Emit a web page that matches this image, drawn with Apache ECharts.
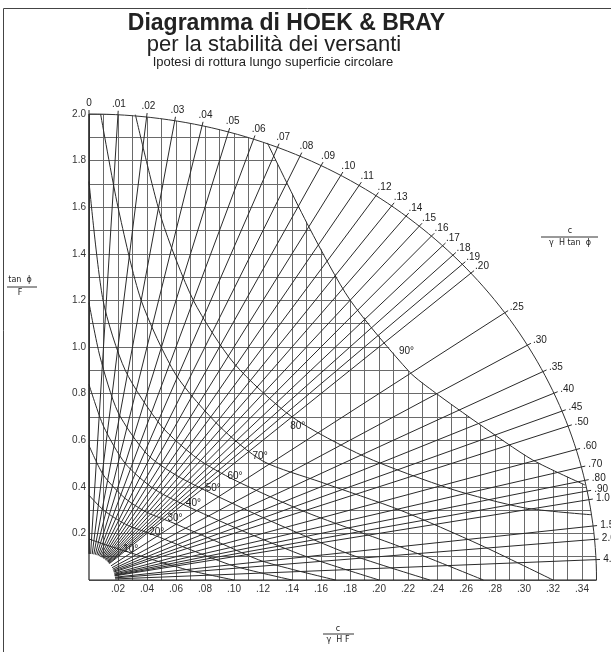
<!DOCTYPE html>
<html>
<head>
<meta charset="utf-8">
<script src="https://cdn.jsdelivr.net/npm/echarts/dist/echarts.min.js"></script>
<style>
html, body { margin: 0; padding: 0; background: #fff; }
#chart { width: 611px; height: 652px; }
</style>
</head>
<body>
<div id="chart"></div>
<script>
//=============== dati =================
// valori c / (gamma H tan phi) delle rette radiali
var radialK = [0, .01, .02, .03, .04, .05, .06, .07, .08, .09, .10, .11, .12, .13, .14, .15, .16, .17, .18, .19, .20,
    .25, .30, .35, .40, .45, .50, .60, .70, .80, .90, 1.0, 1.5, 2.0, 4.0];
var radialLabels = ['0', '.01', '.02', '.03', '.04', '.05', '.06', '.07', '.08', '.09', '.10', '.11', '.12', '.13', '.14',
    '.15', '.16', '.17', '.18', '.19', '.20', '.25', '.30', '.35', '.40', '.45', '.50', '.60', '.70', '.80', '.90',
    '1.0', '1.5', '2.0', '4.0'];

// curve dell'angolo del pendio (x = c/gammaHF, y = tan phi / F)
var angleNames = ['10°', '20°', '30°', '40°', '50°', '60°', '70°', '80°', '90°'];
var slope10 = [[0, 0.176], [0.012, 0.15], [0.027, 0.12], [0.045, 0.085], [0.07, 0.04], [0.10, 0]];
var slope20 = [[0, 0.364], [0.01, 0.30], [0.025, 0.24], [0.046, 0.19], [0.07, 0.13], [0.10, 0.06], [0.14, 0]];
var slope30 = [[0, 0.577], [0.01, 0.45], [0.025, 0.35], [0.04, 0.29], [0.058, 0.245], [0.09, 0.16], [0.12, 0.08], [0.17, 0]];
var slope40 = [[0, 0.839], [0.01, 0.66], [0.025, 0.50], [0.045, 0.39], [0.07, 0.31], [0.11, 0.20], [0.15, 0.10], [0.20, 0]];
var slope50 = [[0, 1.19], [0.0076, 0.958], [0.02, 0.72], [0.04, 0.54], [0.06, 0.45], [0.085, 0.37], [0.13, 0.24],
    [0.18, 0.11], [0.235, 0]];
var slope60 = [[0, 1.71], [0.0097, 1.20], [0.025, 0.90], [0.05, 0.66], [0.075, 0.52], [0.10, 0.43], [0.15, 0.29],
    [0.2145, 0.143], [0.272, 0]];
var slope70 = [[0.008, 2.0], [0.02, 1.6], [0.036, 1.2], [0.06, 0.88], [0.09, 0.66], [0.12, 0.51], [0.16, 0.42],
    [0.2145, 0.30], [0.27, 0.15], [0.32, 0]];
var slope80 = [[0.032, 1.997], [0.05, 1.55], [0.072, 1.2], [0.10, 0.93], [0.14, 0.70], [0.19, 0.53], [0.25, 0.39],
    [0.30, 0.31], [0.3465, 0.28]];
var slope90 = [[0.123, 1.876], [0.152, 1.511], [0.180, 1.202], [0.221, 0.893], [0.239, 0.803], [0.268, 0.674],
    [0.306, 0.515], [0.342, 0.408]];
var slopeCurves = [slope10, slope20, slope30, slope40, slope50, slope60, slope70, slope80, slope90];
// dove stanno le etichette degli angoli
var angleLabelAt = [[0.0288, 0.133], [0.0467, 0.207], [0.0593, 0.264], [0.072, 0.329], [0.0857, 0.393],
    [0.1007, 0.446], [0.118, 0.529], [0.144, 0.658], [0.219, 0.980]];

var xMax = 0.35, yMax = 2.0;
var rxIn = 0.018, ryIn = 0.112; // quarto di cerchio bianco nell'origine

function ellPts(a, b, t0, t1, n) {
    var pts = [];
    for (var i = 0; i <= n; i++) {
        var t = t0 + (t1 - t0) * i / n;
        pts.push([a * Math.cos(t), b * Math.sin(t)]);
    }
    return pts;
}
function ellAngle(p) {
    return Math.atan2(p[1] / yMax, p[0] / xMax);
}

var lineCol = '#2a2a2a';
var gridCol = '#6a6a6a';
var txtCol = '#222';

var chart = echarts.init(document.getElementById('chart'));

var option = {
    animation: false,
    backgroundColor: '#fff',
    grid: { left: 89, top: 114, right: 14.5, bottom: 72 },
    xAxis: {
        type: 'value', min: 0, max: xMax, interval: 0.02,
        axisLine: { show: false }, axisTick: { show: false },
        minorTick: { show: false, splitNumber: 2 },
        splitLine: { show: true, lineStyle: { color: gridCol, width: 1 } },
        minorSplitLine: { show: true, lineStyle: { color: gridCol, width: 1 } },
        axisLabel: {
            margin: 4, color: '#333', fontSize: 10, fontFamily: 'Liberation Sans',
            formatter: function (v) {
                if (v < 0.01 || Math.abs(v / 0.02 - Math.round(v / 0.02)) > 0.01) return '';
                return v.toFixed(2).replace(/^0/, '');
            }
        }
    },
    yAxis: {
        type: 'value', min: 0, max: yMax, interval: 0.2,
        axisLine: { show: false }, axisTick: { show: false },
        minorTick: { show: false, splitNumber: 2 },
        splitLine: { show: true, lineStyle: { color: gridCol, width: 1 } },
        minorSplitLine: { show: true, lineStyle: { color: gridCol, width: 1 } },
        axisLabel: {
            margin: 3, color: '#333', fontSize: 10, fontFamily: 'Liberation Sans',
            formatter: function (v) { return v < 0.01 ? '' : v.toFixed(1); }
        }
    },
    graphic: [
        { type: 'rect', shape: { x: 3.5, y: 8.5, width: 800, height: 800 }, style: { fill: 'none', stroke: '#444', lineWidth: 1 }, z: 100 },
        { type: 'text', x: 286.5, y: 24, style: { text: 'Diagramma di HOEK & BRAY', font: 'bold 23px "Liberation Sans"', fill: '#222', align: 'center', verticalAlign: 'middle' }, z: 100 },
        { type: 'text', x: 274, y: 45, style: { text: 'per la stabilità dei versanti', font: '22px "Liberation Sans"', fill: '#222', align: 'center', verticalAlign: 'middle' }, z: 100 },
        { type: 'text', x: 273, y: 62.5, style: { text: 'Ipotesi di rottura lungo superficie circolare', font: '13px "Liberation Sans"', fill: '#222', align: 'center', verticalAlign: 'middle' }, z: 100 },
        // tan phi / F
        { type: 'text', x: 20, y: 280, style: { text: 'tan  ϕ', font: '8px "DejaVu Sans"', fill: '#222', align: 'center', verticalAlign: 'middle' }, z: 100 },
        { type: 'line', shape: { x1: 7, y1: 287, x2: 37, y2: 287 }, style: { stroke: '#333', lineWidth: 1 }, z: 100 },
        { type: 'text', x: 20, y: 293, style: { text: 'F', font: '8px "DejaVu Sans"', fill: '#222', align: 'center', verticalAlign: 'middle' }, z: 100 },
        // c / gamma H tan phi
        { type: 'text', x: 570, y: 231, style: { text: 'c', font: '8px "DejaVu Sans"', fill: '#222', align: 'center', verticalAlign: 'middle' }, z: 100 },
        { type: 'line', shape: { x1: 541, y1: 237, x2: 598, y2: 237 }, style: { stroke: '#333', lineWidth: 1 }, z: 100 },
        { type: 'text', x: 570, y: 243, style: { text: 'γ  H tan  ϕ', font: '8px "DejaVu Sans"', fill: '#222', align: 'center', verticalAlign: 'middle' }, z: 100 },
        // c / gamma H F
        { type: 'text', x: 338, y: 629, style: { text: 'c', font: '8px "DejaVu Sans"', fill: '#222', align: 'center', verticalAlign: 'middle' }, z: 100 },
        { type: 'line', shape: { x1: 323, y1: 634, x2: 354, y2: 634 }, style: { stroke: '#333', lineWidth: 1 }, z: 100 },
        { type: 'text', x: 338, y: 640, style: { text: 'γ  H F', font: '8px "DejaVu Sans"', fill: '#222', align: 'center', verticalAlign: 'middle' }, z: 100 }
    ],
    series: [
        {
            // maschera bianca: fuori dall'ellisse e sopra la curva dei 90°
            type: 'custom', z: 3, silent: true, data: [[0]],
            renderItem: function (params, api) {
                var a0 = ellAngle(slope90[0]), a1 = ellAngle(slope90[slope90.length - 1]);
                var pts = ellPts(xMax, yMax, Math.PI / 2, a0, 40)
                    .concat(slope90)
                    .concat(ellPts(xMax, yMax, a1, 0, 30))
                    .concat([[0.38, 0], [0.38, 2.2], [0, 2.2]]);
                var inner = [[0, 0]].concat(ellPts(rxIn, ryIn, 0, Math.PI / 2, 30));
                return {
                    type: 'group', children: [
                        { type: 'polygon', shape: { points: pts.map(function (p) { return api.coord(p); }) }, style: { fill: '#fff' } },
                        { type: 'polygon', shape: { points: inner.map(function (p) { return api.coord(p); }) }, style: { fill: '#fff' } }
                    ]
                };
            }
        },
        {
            // rette radiali c / (gamma H tan phi)
            type: 'custom', z: 5, silent: true,
            data: radialK.map(function (k, i) { return [i]; }),
            renderItem: function (params, api) {
                var k = radialK[params.dataIndex];
                var lab = radialLabels[params.dataIndex];
                var tOut = 1 / Math.sqrt(k * k / (xMax * xMax) + 1 / (yMax * yMax));
                var tIn = 1 / Math.sqrt(k * k / (rxIn * rxIn) + 1 / (ryIn * ryIn));
                var p0 = api.coord([k * tIn, tIn]);
                var p1 = api.coord([k * tOut, tOut]);
                var dx = p1[0] - p0[0], dy = p1[1] - p0[1];
                var len = Math.sqrt(dx * dx + dy * dy);
                dx /= len; dy /= len;
                var w = lab.length * 5.5, h = 10;
                var cx = p1[0] + dx * 6 + dx * w / 2;
                var cy = p1[1] + dy * 6 + dy * h / 2;
                return {
                    type: 'group', children: [
                        { type: 'line', shape: { x1: p0[0], y1: p0[1], x2: p1[0] + dx * 4, y2: p1[1] + dy * 4 }, style: { stroke: lineCol, lineWidth: 1 } },
                        { type: 'text', x: cx, y: cy, style: { text: lab, font: '10px "Liberation Sans"', fill: txtCol, align: 'center', verticalAlign: 'middle' } }
                    ]
                };
            }
        },
        {
            // curve dell'angolo del pendio
            type: 'custom', z: 6, silent: true,
            data: slopeCurves.map(function (c, i) { return [i]; }),
            renderItem: function (params, api) {
                var c = slopeCurves[params.dataIndex];
                var lp = angleLabelAt[params.dataIndex];
                var pl = api.coord(lp);
                return {
                    type: 'group', children: [
                        { type: 'polyline', shape: { points: c.map(function (p) { return api.coord(p); }), smooth: 0.25 }, style: { stroke: lineCol, lineWidth: 1, fill: 'none' } },
                        { type: 'text', x: pl[0], y: pl[1], style: { text: angleNames[params.dataIndex], font: '10px "Liberation Sans"', fill: txtCol, align: 'center', verticalAlign: 'middle' } }
                    ]
                };
            }
        },
        {
            // arco esterno e assi
            type: 'custom', z: 7, silent: true, data: [[0]],
            renderItem: function (params, api) {
                var arc = ellPts(xMax, yMax, 0, Math.PI / 2, 90);
                var o = api.coord([0, 0]);
                var xe = api.coord([xMax, 0]);
                var ye = api.coord([0, yMax]);
                return {
                    type: 'group', children: [
                        { type: 'polyline', shape: { points: arc.map(function (p) { return api.coord(p); }) }, style: { stroke: '#333', lineWidth: 1, fill: 'none' } },
                        { type: 'line', shape: { x1: o[0], y1: o[1], x2: xe[0], y2: xe[1] }, style: { stroke: '#222', lineWidth: 1.2 } },
                        { type: 'line', shape: { x1: o[0], y1: o[1], x2: ye[0], y2: ye[1] }, style: { stroke: '#222', lineWidth: 1.2 } }
                    ]
                };
            }
        }
    ]
};
chart.setOption(option);
</script>
</body>
</html>
